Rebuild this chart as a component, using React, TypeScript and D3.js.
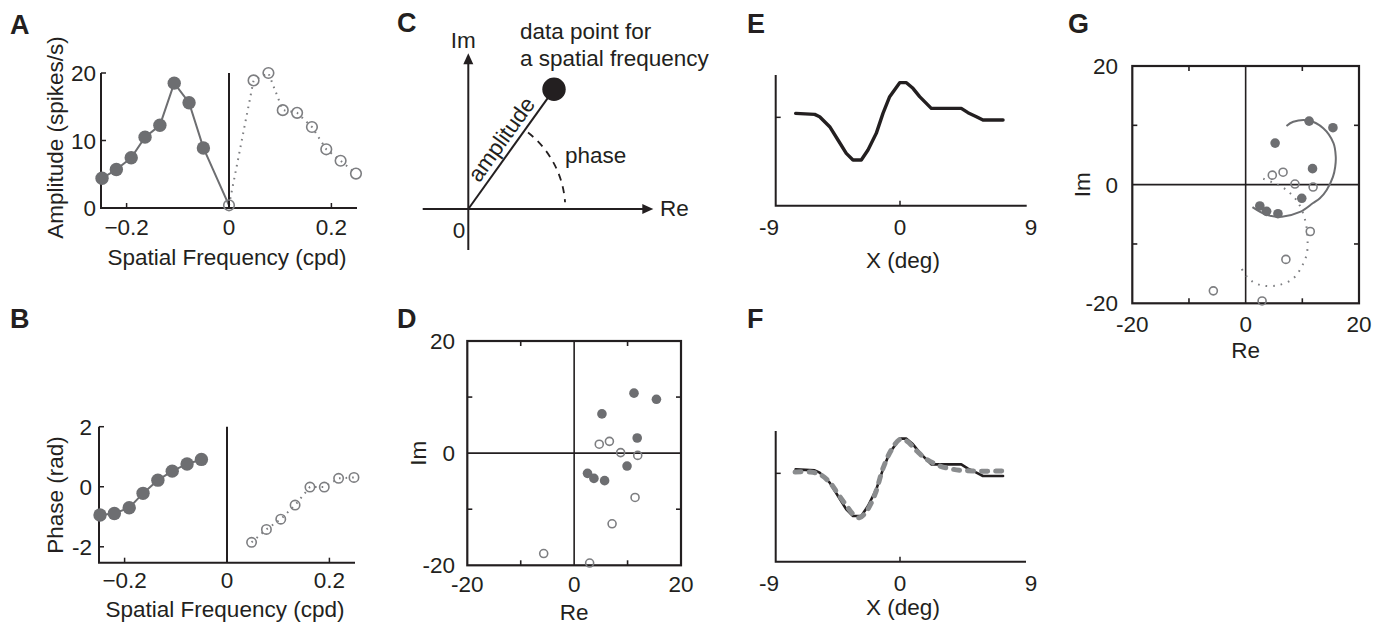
import React, { useEffect } from 'react';
import * as d3 from 'd3';

// ---------- data ----------
// Panels A/B : spatial frequency (cpd)
const freqNeg = [-0.248, -0.220, -0.191, -0.164, -0.135, -0.107, -0.078, -0.050];
const freqPos = [0.048, 0.077, 0.105, 0.133, 0.162, 0.190, 0.218, 0.248];
const ampNeg = [4.4, 5.7, 7.45, 10.5, 12.25, 18.5, 15.6, 8.9];
const ampDC = 0.4;
const ampPos = [18.9, 20.0, 14.5, 14.1, 12.0, 8.7, 7.0, 5.1];
const phaseNeg = [-0.94, -0.89, -0.70, -0.22, 0.22, 0.52, 0.76, 0.91];
const phasePos = [-1.85, -1.42, -1.08, -0.61, -0.01, -0.01, 0.28, 0.31];
const ampTicks = [0, 10, 20];
const phaseTicks = [-2, 0, 2];
const freqTicks = [-0.2, 0, 0.2];

// Panels D/G : complex plane
const reFilled = [11.2, 15.4, 5.2, 11.8, 9.9, 2.5, 3.7, 5.7];
const imFilled = [10.7, 9.6, 7.0, 2.7, -2.3, -3.6, -4.5, -4.9];
const reOpen = [4.7, 6.6, 8.7, 11.9, 11.4, 7.1, -5.7, 2.9];
const imOpen = [1.6, 2.1, 0.1, -0.4, -7.9, -12.6, -17.9, -19.6];
const fitNegRe = [7.2, 8.4, 11.1, 13.7, 15.5, 15.9, 15.8, 15.4, 14.3, 13.1, 11.9, 9.6, 6.4, 3.7, 1.2];
const fitNegIm = [9.9, 10.6, 10.8, 9.5, 7.0, 4.7, 3.0, 1.3, -0.9, -2.3, -3.1, -4.6, -5.4, -5.1, -3.8];
const fitPosRe = [3.1, 4.9, 7.2, 9.3, 10.5, 10.9, 10.8, 9.9, 8.4, 5.5, 2.5, 0.5, -1.0];
const fitPosIm = [1.0, 0.3, -0.9, -3.1, -6.0, -8.8, -11.6, -13.8, -15.8, -17.0, -16.9, -15.8, -13.7];
const planeLabelTicks = [-20, 0, 20];
const planeMinorTicks = [-10, 10];

// Panels E/F : spatial profile
const profX = [-7.17, -5.86, -5.52, -4.83, -4.26, -3.69, -3.23, -2.66, -2.20, -1.63, -1.17, -0.71, -0.02, 0.44, 0.89, 1.35, 2.15, 4.21, 4.67, 5.25, 5.70, 7.08];
const profY = [0.12, 0.09, 0.02, -0.28, -0.68, -1.08, -1.28, -1.28, -0.98, -0.48, 0.12, 0.62, 1.04, 1.04, 0.87, 0.62, 0.27, 0.27, 0.14, 0.02, -0.08, -0.08];
const fitX = [-7.21, -6.18, -5.50, -4.81, -4.24, -3.66, -3.21, -2.79, -2.29, -1.72, -1.15, -0.57, 0, 0.46, 1.15, 1.83, 2.75, 3.66, 5.04, 6.99];
const fitY = [0.04, 0.04, -0.03, -0.28, -0.63, -0.98, -1.23, -1.33, -1.13, -0.63, 0.17, 0.72, 1.02, 0.97, 0.67, 0.42, 0.22, 0.12, 0.07, 0.07];
const degTicks = [-9, 0, 9];

// Panel C schematic (arbitrary units)
const cPoint = { re: 0.857, im: 1.197 };
const cPhaseRadius = 0.97;

// ---------- style ----------
const FONT = "'Liberation Sans', Arial, Helvetica, sans-serif";
const INK = '#231f20';
const GRAY = '#6d6e71';
const GRAY_OPEN = '#7d7e81';
const GRAY_FIT = '#8a8c8e';
const FS = 22.5;

type P = [number, number];
const zip = (a: number[], b: number[]): P[] => a.map((v, i) => [v, b[i]]);

function PanelLetter({ x, y, t }: { x: number; y: number; t: string }) {
  return (
    <text x={x} y={y} fontSize={27} fontWeight="bold" fill={INK}>
      {t}
    </text>
  );
}

function SpectrumPanel(props: {
  x0: number; x1: number; yTop: number; yBot: number; yDomain: [number, number];
  yTicks: number[]; neg: number[]; pos: number[]; dc: number | null;
  yLabel: string; yLabelPos: P; tickLabelRight: number; xTickBase: number; xLabelBase: number;
  rFilled: number; rOpen: number;
}) {
  const x = d3.scaleLinear([-0.25, 0.25], [props.x0, props.x1]);
  const y = d3.scaleLinear(props.yDomain, [props.yBot, props.yTop]);
  const line = d3.line<P>().x(d => x(d[0])).y(d => y(d[1]));
  const negPts = zip(freqNeg, props.neg);
  const posPts = zip(freqPos, props.pos);
  const solidPts = props.dc !== null ? [...negPts, [0, props.dc] as P] : negPts;
  const dotPts = props.dc !== null ? [[0, props.dc] as P, ...posPts] : posPts;
  const openPts = props.dc !== null ? [[0, props.dc] as P, ...posPts] : posPts;
  const yMax = props.yDomain[1];
  const yMin = props.yDomain[0];
  return (
    <g>
      <path d={line(solidPts) || ''} fill="none" stroke={GRAY} strokeWidth={2} />
      <path d={line(dotPts) || ''} fill="none" stroke={GRAY_OPEN} strokeWidth={2} strokeDasharray="1.6,5" />
      <path d={`M${x(-0.25)},${y(yMax)}V${y(yMin)}H${x(0.25)}`} fill="none" stroke={INK} strokeWidth={2} />
      <line x1={x(0)} x2={x(0)} y1={y(yMax)} y2={y(yMin)} stroke={INK} strokeWidth={2} />
      {props.yTicks.map(t => (
        <g key={'yt' + t}>
          <line x1={x(-0.25)} x2={x(-0.25) + 5} y1={y(t)} y2={y(t)} stroke={INK} strokeWidth={1.5} />
          <text x={props.tickLabelRight} y={y(t)} dy="0.36em" textAnchor="end" fontSize={FS} fill={INK}>{t}</text>
        </g>
      ))}
      {freqTicks.map(t => (
        <g key={'xt' + t}>
          <line x1={x(t)} x2={x(t)} y1={y(yMin)} y2={y(yMin) - 5} stroke={INK} strokeWidth={1.5} />
          <text x={x(t)} y={props.xTickBase} textAnchor="middle" fontSize={FS} fill={INK}>{t === 0 ? '0' : d3.format('.1f')(t)}</text>
        </g>
      ))}
      {negPts.map((d, i) => (
        <circle key={'f' + i} cx={x(d[0])} cy={y(d[1])} r={props.rFilled} fill={GRAY} />
      ))}
      {openPts.map((d, i) => (
        <circle key={'o' + i} cx={x(d[0])} cy={y(d[1])} r={props.rOpen} fill="none" stroke={GRAY_OPEN} strokeWidth={1.6} />
      ))}
      <text transform={`translate(${props.yLabelPos[0]},${props.yLabelPos[1]}) rotate(-90)`} dy="0.35em" textAnchor="middle" fontSize={FS} fill={INK}>{props.yLabel}</text>
      <text x={(props.x0 + props.x1) / 2 - 2} y={props.xLabelBase} textAnchor="middle" fontSize={FS} fill={INK}>Spatial Frequency (cpd)</text>
    </g>
  );
}

function PlanePanel(props: {
  x0: number; x1: number; yTop: number; yBot: number;
  yLabelRight: number; xTickBase: number; reBase: number; imX: number; fits: boolean;
}) {
  const x = d3.scaleLinear([-20, 20], [props.x0, props.x1]);
  const y = d3.scaleLinear([-20, 20], [props.yBot, props.yTop]);
  const curve = d3.line<P>().x(d => x(d[0])).y(d => y(d[1])).curve(d3.curveCatmullRom.alpha(0.5));
  return (
    <g>
      <rect x={x(-20)} y={y(20)} width={x(20) - x(-20)} height={y(-20) - y(20)} fill="none" stroke={INK} strokeWidth={2.2} />
      <line x1={x(0)} x2={x(0)} y1={y(20)} y2={y(-20)} stroke={INK} strokeWidth={1.6} />
      <line x1={x(-20)} x2={x(20)} y1={y(0)} y2={y(0)} stroke={INK} strokeWidth={1.6} />
      {planeMinorTicks.map(t => (
        <g key={'m' + t} stroke={INK} strokeWidth={1.6}>
          <line x1={x(t)} x2={x(t)} y1={y(20)} y2={y(20) + 5} />
          <line x1={x(t)} x2={x(t)} y1={y(-20)} y2={y(-20) - 5} />
          <line x1={x(-20)} x2={x(-20) + 5} y1={y(t)} y2={y(t)} />
          <line x1={x(20)} x2={x(20) - 5} y1={y(t)} y2={y(t)} />
        </g>
      ))}
      {planeLabelTicks.map(t => (
        <g key={'l' + t}>
          <text x={props.yLabelRight} y={y(t)} dy="0.36em" textAnchor="end" fontSize={FS} fill={INK}>{t}</text>
          <text x={x(t)} y={props.xTickBase} textAnchor="middle" fontSize={FS} fill={INK}>{t}</text>
        </g>
      ))}
      {props.fits && (
        <g>
          <path d={curve(zip(fitNegRe, fitNegIm)) || ''} fill="none" stroke={GRAY} strokeWidth={2} />
          <path d={curve(zip(fitPosRe, fitPosIm)) || ''} fill="none" stroke={GRAY_OPEN} strokeWidth={2} strokeDasharray="1.6,6" />
        </g>
      )}
      {reFilled.map((v, i) => (
        <circle key={'f' + i} cx={x(v)} cy={y(imFilled[i])} r={4.8} fill={GRAY} />
      ))}
      {reOpen.map((v, i) => (
        <circle key={'o' + i} cx={x(v)} cy={y(imOpen[i])} r={4} fill="none" stroke={GRAY_OPEN} strokeWidth={1.6} />
      ))}
      <text transform={`translate(${props.imX},${y(0)}) rotate(-90)`} dy="0.35em" textAnchor="middle" fontSize={FS} fill={INK}>Im</text>
      <text x={x(0)} y={props.reBase} textAnchor="middle" fontSize={FS} fill={INK}>Re</text>
    </g>
  );
}

function ProfilePanel(props: { yTop: number; yBot: number; xAxisRight: number; tickBase: number; labelBase: number; fit: boolean }) {
  const x = d3.scaleLinear([-9, 9], [769, 1031]);
  const y = d3.scaleLinear([-2.65, 1.27], [props.yBot, props.yTop]);
  const dataLine = d3.line<P>().x(d => x(d[0])).y(d => y(d[1]));
  const fitLine = d3.line<P>().x(d => x(d[0])).y(d => y(d[1])).curve(d3.curveCatmullRom.alpha(0.5));
  const ax = 775.7;
  return (
    <g>
      <path d={`M${ax},${props.yTop}V${props.yBot}H${props.xAxisRight}`} fill="none" stroke={INK} strokeWidth={2} />
      <line x1={x(0)} x2={x(0)} y1={props.yBot} y2={props.yBot - 5} stroke={INK} strokeWidth={1.5} />
      <line x1={ax} x2={ax + 5} y1={y(0)} y2={y(0)} stroke={INK} strokeWidth={1.5} />
      {degTicks.map(t => (
        <text key={t} x={x(t)} y={props.tickBase} textAnchor="middle" fontSize={FS} fill={INK}>{t}</text>
      ))}
      <path d={dataLine(zip(profX, profY)) || ''} fill="none" stroke={INK} strokeWidth={props.fit ? 2.6 : 3.4} strokeLinejoin="round" strokeLinecap="round" />
      {props.fit && (
        <path d={fitLine(zip(fitX, fitY)) || ''} fill="none" stroke={GRAY_FIT} strokeWidth={5} strokeDasharray="6,8" strokeLinecap="round" />
      )}
      <text x={x(0) + 3} y={props.labelBase} textAnchor="middle" fontSize={FS} fill={INK}>X (deg)</text>
    </g>
  );
}

function SchematicPanel() {
  const cx = d3.scaleLinear([0, 1], [468.3, 568.3]);
  const cy = d3.scaleLinear([0, 1], [209, 109]);
  const ang = Math.atan2(cy(cPoint.im) - cy(0), cx(cPoint.re) - cx(0));
  const rPx = cx(cPhaseRadius) - cx(0);
  const arc = d3.path();
  arc.arc(cx(0), cy(0), rPx, -52 * Math.PI / 180, -4 * Math.PI / 180, false);
  const arrow = (tx: number, ty: number, dir: 'right' | 'up') => {
    const L = 11, W = 5;
    return dir === 'right'
      ? `M${tx},${ty}L${tx - L},${ty - W}L${tx - L},${ty + W}Z`
      : `M${tx},${ty}L${tx - W},${ty + L}L${tx + W},${ty + L}Z`;
  };
  const reEnd = cx(1.85), imEnd = cy(1.557);
  const tDist = 76;
  const tx = cx(0) + tDist * Math.cos(ang);
  const ty = cy(0) + tDist * Math.sin(ang);
  return (
    <g>
      <line x1={cx(-0.456)} x2={reEnd - 8} y1={cy(0)} y2={cy(0)} stroke={INK} strokeWidth={2} />
      <path d={arrow(reEnd, cy(0), 'right')} fill={INK} />
      <line x1={cx(0)} x2={cx(0)} y1={cy(-0.41)} y2={imEnd + 8} stroke={INK} strokeWidth={2} />
      <path d={arrow(cx(0), imEnd, 'up')} fill={INK} />
      <line x1={cx(0)} y1={cy(0)} x2={cx(cPoint.re)} y2={cy(cPoint.im)} stroke={INK} strokeWidth={2} />
      <circle cx={cx(cPoint.re)} cy={cy(cPoint.im)} r={11.7} fill={INK} />
      <path d={arc.toString()} fill="none" stroke={INK} strokeWidth={1.8} strokeDasharray="7,6" />
      <text transform={`translate(${tx},${ty}) rotate(${ang * 180 / Math.PI})`} dy={-6} textAnchor="middle" fontSize={FS} fill={INK}>amplitude</text>
      <text x={565} y={163} fontSize={FS} fill={INK}>phase</text>
      <text x={cx(0) - 5} y={48} textAnchor="middle" fontSize={FS} fill={INK}>Im</text>
      <text x={660} y={216} fontSize={FS} fill={INK}>Re</text>
      <text x={459} y={238} textAnchor="middle" fontSize={FS} fill={INK}>0</text>
      <text x={520} y={39} fontSize={FS} fill={INK}>data point for</text>
      <text x={520} y={66} fontSize={FS} fill={INK}>a spatial frequency</text>
    </g>
  );
}

export default function App() {
  useEffect(() => {
    document.body.style.margin = '0';
  }, []);
  return (
    <svg width={1381} height={629} fontFamily={FONT} style={{ display: 'block', position: 'absolute', left: 0, top: 0, background: '#fff' }}>
      <rect width={1381} height={629} fill="#fff" />
      <PanelLetter x={10} y={34} t="A" />
      <PanelLetter x={10} y={328} t="B" />
      <PanelLetter x={397} y={32} t="C" />
      <PanelLetter x={397} y={328} t="D" />
      <PanelLetter x={747} y={33} t="E" />
      <PanelLetter x={747} y={328} t="F" />
      <PanelLetter x={1068} y={33} t="G" />

      <SpectrumPanel x0={101} x1={357} yTop={73} yBot={208} yDomain={[0, 20]} yTicks={ampTicks}
        neg={ampNeg} pos={ampPos} dc={ampDC} yLabel="Amplitude (spikes/s)" yLabelPos={[55, 137.5]}
        tickLabelRight={96} xTickBase={235} xLabelBase={265} rFilled={6.7} rOpen={5.3} />
      <SpectrumPanel x0={99} x1={355} yTop={426.7} yBot={562.7} yDomain={[-2.53, 2]} yTicks={phaseTicks}
        neg={phaseNeg} pos={phasePos} dc={null} yLabel="Phase (rad)" yLabelPos={[55, 495]}
        tickLabelRight={92} xTickBase={588} xLabelBase={617} rFilled={6.7} rOpen={4.7} />

      <SchematicPanel />

      <PlanePanel x0={467.3} x1={681} yTop={341} yBot={565.3} yLabelRight={455} xTickBase={592} reBase={620} imX={418} fits={false} />
      <PlanePanel x0={1132.3} x1={1359} yTop={66} yBot={303.3} yLabelRight={1118} xTickBase={332} reBase={358} imX={1082} fits={true} />

      <ProfilePanel yTop={75} yBot={205.7} xAxisRight={1026.7} tickBase={235} labelBase={268} fit={false} />
      <ProfilePanel yTop={431} yBot={561.7} xAxisRight={1026} tickBase={591} labelBase={615} fit={true} />
    </svg>
  );
}
